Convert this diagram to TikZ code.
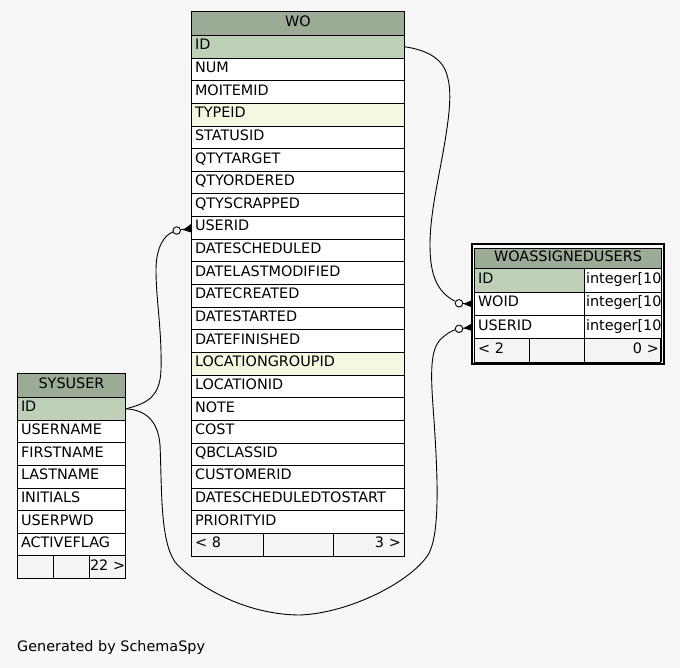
\documentclass[tikz,border=0pt]{standalone}
\usepackage{fontspec}
\setmainfont{DejaVu Sans}
\usetikzlibrary{calc}
\definecolor{bg}{HTML}{F7F7F7}
\definecolor{hdrc}{HTML}{9BAB96}
\definecolor{pkc}{HTML}{BED1B8}
\definecolor{idxc}{HTML}{F5F7E0}
\definecolor{ftc}{HTML}{F4F4F4}
\begin{document}
\begin{tikzpicture}[x=1pt,y=-1pt,
  every node/.style={font=\fontsize{14.4}{16}\selectfont},
  cellbase/.style={draw=black, line width=1pt, rectangle, anchor=north west,
    inner xsep=3.5pt, inner ysep=0pt, text height=10.5pt, text depth=4.5pt},
  rowcell/.style={cellbase, minimum height=22.64pt, align=left},
  hdrcell/.style={cellbase, fill=hdrc, align=center},
  link/.style={draw=black, line width=0.9pt},
  odot/.style={circle, draw=black, line width=0.9pt, fill=bg, minimum size=7.5pt, inner sep=0pt}
]
\fill[bg] (0,0) rectangle (680,668);
\useasboundingbox (0,0) rectangle (680,668);

% ---------------- WO ----------------
\node[hdrcell, text width=206pt, minimum height=24pt] (wo-h) at (191,11) {WO};
\foreach \t/\f [count=\i] in {ID/pkc, NUM/white, MOITEMID/white, TYPEID/idxc,
  STATUSID/white, QTYTARGET/white, QTYORDERED/white, QTYSCRAPPED/white,
  USERID/white, DATESCHEDULED/white, DATELASTMODIFIED/white, DATECREATED/white,
  DATESTARTED/white, DATEFINISHED/white, LOCATIONGROUPID/idxc, LOCATIONID/white,
  NOTE/white, COST/white, QBCLASSID/white, CUSTOMERID/white,
  DATESCHEDULEDTOSTART/white, PRIORITYID/white}
  \node[rowcell, fill=\f, text width=206pt] (wo-\i) at (191,{35+(\i-1)*22.64}) {\t};
\node[rowcell, fill=ftc, text width=65pt] (wo-fa) at (191,533.08) {< 8};
\node[rowcell, fill=ftc, text width=63pt] (wo-fb) at (263,533.08) {};
\node[rowcell, fill=ftc, text width=64pt, align=right] (wo-fc) at (333,533.08) {3 >};

% ---------------- SYSUSER ----------------
\node[hdrcell, text width=101pt, minimum height=24pt] (su-h) at (17,373) {SYSUSER};
\foreach \t/\f [count=\i] in {ID/pkc, USERNAME/white, FIRSTNAME/white,
  LASTNAME/white, INITIALS/white, USERPWD/white, ACTIVEFLAG/white}
  \node[rowcell, fill=\f, text width=101pt] (su-\i) at (17,{397+(\i-1)*22.64}) {\t};
\node[rowcell, fill=ftc, text width=29pt] (su-fa) at (17,555.48) {};
\node[rowcell, fill=ftc, text width=29pt] (su-fb) at (53,555.48) {};
\node[rowcell, fill=ftc, text width=35pt, inner xsep=0.5pt, align=right] (su-fc) at (89,555.48) {\mbox{22 >}};

% ---------------- WOASSIGNEDUSERS ----------------
\draw[line width=2pt] (471.5,244.5) rectangle (663.5,364.2);
\begin{scope}
\clip (473.5,247) rectangle (661.8,362.3);
\node[hdrcell, text width=180pt, minimum height=20.6pt] (wau-h) at (474,247.7) {WOASSIGNEDUSERS};
\foreach \t/\f [count=\i] in {ID/pkc, WOID/white, USERID/white} {
  \node[rowcell, fill=\f, text width=103pt, minimum height=23.35pt] (wau-\i) at (474,{268.3+(\i-1)*23.35}) {\t};
  \node[rowcell, fill=white, text width=77pt, inner xsep=1.5pt, minimum height=23.35pt] (wau-t\i) at (584,{268.3+(\i-1)*23.35}) {\mbox{integer[10]}};
}
\node[rowcell, fill=ftc, text width=48pt, minimum height=23.35pt] (wau-fa) at (474,338.35) {< 2};
\node[rowcell, fill=ftc, text width=48pt, minimum height=23.35pt] (wau-fb) at (529,338.35) {};
\node[rowcell, fill=ftc, text width=73pt, inner xsep=1.5pt, minimum height=23.35pt, align=right] (wau-fc) at (584,338.35) {0 >};
\draw[line width=1pt] (661,247.7) -- (661,361.7);
\end{scope}

% ---------------- connectors ----------------
\node[odot] (c1) at (459,303.3) {};
\node[odot] (c2) at (176.7,230.5) {};
\node[odot] (c3) at (459,328.8) {};

\coordinate (e1) at ([xshift=-2.5pt]wau-2.west);
\coordinate (e3) at ([xshift=-2.5pt]wau-3.west);
\coordinate (e2) at (wo-9.west);

% WO.ID -> WOASSIGNEDUSERS.WOID
\draw[link] (wo-1.east) .. controls (420,49) and (440,55) .. (446,72)
  .. controls (451,85) and (450,100) .. (449,112)
  .. controls (444,160) and (430,205) .. (430,245)
  .. controls (430,275) and (437,292) .. (c1);
\draw[link] (c1) -- (e1);
\fill ($(e1)+(-8,0)$) -- ([yshift=3.5pt]e1) -- ([yshift=-3.5pt]e1) -- cycle;

% SYSUSER.ID -> WO.USERID
\draw[link] (su-1.east) .. controls (143,404) and (160,400) .. (161,370)
  .. controls (162,330) and (156,300) .. (156,270)
  .. controls (156,246) and (165,235) .. (c2);
\draw[link] (c2) -- (e2);
\fill ($(e2)+(-8,2)$) -- ([yshift=4pt]e2) -- ([yshift=-4.5pt]e2) -- cycle;

% SYSUSER.ID -> WOASSIGNEDUSERS.USERID
\draw[link] (su-1.east) .. controls (145,410) and (158,420) .. (160,445)
  .. controls (162,490) and (160,540) .. (175,562)
  .. controls (200,590) and (250,615) .. (300,615)
  .. controls (350,613) and (410,582) .. (428,555)
  .. controls (440,535) and (438,480) .. (434,420)
  .. controls (431,380) and (429,352) .. (440,340)
  .. controls (446,334) and (451,331) .. (c3);
\draw[link] (c3) -- (e3);
\fill ($(e3)+(-8,1)$) -- ([yshift=3.5pt]e3) -- ([yshift=-3.5pt]e3) -- cycle;

\node[anchor=base west, inner sep=0pt] (gen) at (17,651) {Generated by SchemaSpy};
\end{tikzpicture}
\end{document}
